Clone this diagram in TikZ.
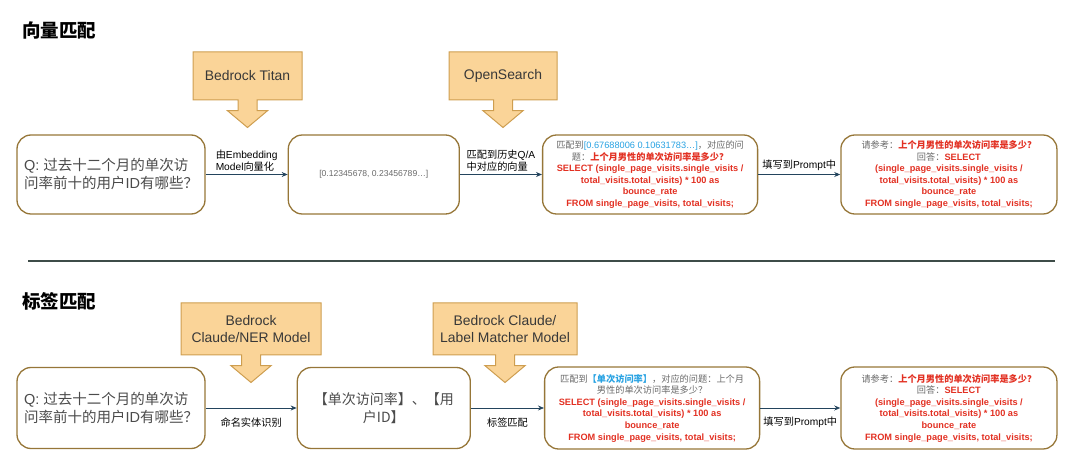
\documentclass[tikz,border=0pt]{standalone}
\usepackage{fontspec}
\setmainfont{Liberation Sans}
\newfontfamily\cjk{Noto Sans CJK SC}
\usepackage{xcolor}
\usepackage{tikz}
\usetikzlibrary{arrows.meta,positioning,shapes.arrows}

\definecolor{boxline}{RGB}{150,118,56}
\definecolor{calfill}{RGB}{250,212,152}
\definecolor{calline}{RGB}{206,158,80}
\definecolor{arrline}{RGB}{35,68,93}
\definecolor{sqlred}{RGB}{226,48,34}
\definecolor{qblue}{RGB}{40,162,226}
\definecolor{txtgray}{RGB}{105,105,105}
\definecolor{qgray}{RGB}{75,75,75}
\definecolor{rulegray}{RGB}{62,76,72}

\newcommand{\zh}[1]{{\cjk #1}}
\newcommand{\redb}[1]{\textcolor{sqlred}{\bfseries #1}}
\newcommand{\gry}[1]{\textcolor{txtgray}{\zh{#1}}}
\newcommand{\sqltail}{\redb{total\_visits.total\_visits) * 100 as}\\
  \redb{bounce\_rate}\\
  \redb{FROM single\_page\_visits, total\_visits;}}
\newcommand{\prompttext}{\gry{请参考：}\redb{\zh{上个月男性的单次访问率是多少？}}\\
  \gry{回答：}\redb{SELECT}\\
  \redb{(single\_page\_visits.single\_visits /}\\
  \sqltail}

\begin{document}
\begin{tikzpicture}[
  x=1pt, y=-1pt,
  box/.style={draw=boxline, line width=1.3pt, rounded corners=14pt, inner sep=3pt},
  qbox/.style={box, minimum width=188pt, minimum height=79pt, align=left, text=qgray, font=\fontsize{14.5pt}{18pt}\selectfont},
  vecbox/.style={box, minimum width=171pt, minimum height=79pt, align=center, text=txtgray, font=\fontsize{8.6pt}{11pt}\selectfont},
  entbox/.style={box, minimum width=173pt, minimum height=81pt, align=center, text=qgray, font=\fontsize{14pt}{18pt}\selectfont},
  matchbox/.style={box, minimum width=215pt, minimum height=79pt, align=center, font=\fontsize{9.2pt}{11.6pt}\selectfont},
  promptbox/.style={box, minimum width=216pt, minimum height=79pt, align=center, font=\fontsize{9.2pt}{11.6pt}\selectfont},
  callout/.style={arrow box, draw=calline, fill=calfill, line width=1pt, align=center, text=black!78,
    arrow box arrows={south:27pt from border}, arrow box shaft width=19pt,
    arrow box head extend=10.5pt, arrow box head indent=0pt, arrow box tip angle=100,
    font=\fontsize{13.9pt}{17pt}\selectfont},
  lbl/.style={align=left, inner sep=3pt, font=\fontsize{10.2pt}{12.2pt}\selectfont},
  ttl/.style={anchor=west, inner sep=0pt, font=\fontsize{18.5pt}{20pt}\selectfont\bfseries},
  arr/.style={-{Stealth[length=6pt,width=5pt]}, draw=arrline, line width=0.8pt},
  divider/.style={draw=rulegray, line width=1.2pt}
]
\useasboundingbox (0,0) rectangle (1080,470);

% vector matching
\node[ttl] (t1) at (22,30) {\zh{向量匹配}};
\node[qbox] (q1) at (111,174.5) {Q: \zh{过去十二个月的单次访}\\\zh{问率前十的用户}ID\zh{有哪些？}};
\node[vecbox, right=82pt of q1] (vec1) {[0.12345678, 0.23456789…]};
\node[matchbox, right=82pt of vec1] (match1) {\gry{匹配到}\textcolor{qblue}{[0.67688006 0.10631783…]}\gry{，对应的问}\\
  \gry{题：}\redb{\zh{上个月男性的单次访问率是多少？}}\\
  \redb{SELECT (single\_page\_visits.single\_visits /}\\
  \sqltail};
\node[promptbox, right=82pt of match1] (prompt1) {\prompttext};
\node[callout, minimum width=109pt, minimum height=48pt] (titan) at (247.5,76) {Bedrock Titan};
\node[callout, minimum width=108pt, minimum height=48pt] (osearch) at (503,76) {OpenSearch};
\draw[arr] (q1) -- node[lbl, above] (l1) {\zh{由}Embedding\\Model\zh{向量化}} (vec1);
\draw[arr] (vec1) -- node[lbl, above] (l2) {\zh{匹配到历史}Q/A\\\zh{中对应的向量}} (match1);
\draw[arr] (match1) -- node[lbl, above] (l3) {\zh{填写到}Prompt\zh{中}} (prompt1);

% divider
\coordinate (dl) at (28,261);
\coordinate (dr) at (1055,261);
\draw[divider] (dl) -- (dr);

% label matching
\node[ttl] (t2) at (22,301) {\zh{标签匹配}};
\node[qbox, minimum height=81pt] (q2) at (111,408) {Q: \zh{过去十二个月的单次访}\\\zh{问率前十的用户}ID\zh{有哪些？}};
\node[entbox, right=91pt of q2] (ent) {\zh{【单次访问率】、【用}\\\zh{户ID】}};
\node[matchbox, minimum height=82pt, right=73pt of ent] (match2) {\gry{匹配到}\textcolor{qblue}{\bfseries\zh{【单次访问率】}}\gry{，对应的问题：上个月}\\
  \gry{男性的单次访问率是多少？}\\
  \redb{SELECT (single\_page\_visits.single\_visits /}\\
  \sqltail};
\node[promptbox, minimum height=82pt, right=80pt of match2] (prompt2) {\prompttext};
\node[callout, minimum width=140pt, minimum height=52pt] (ner) at (251,329) {Bedrock\\Claude/NER Model};
\node[callout, minimum width=144pt, minimum height=52pt] (lmatch) at (505,329) {Bedrock Claude/\\Label Matcher Model};
\draw[arr] (q2) -- node[lbl, below, yshift=-6pt] (l4) {\zh{命名实体识别}} (ent);
\draw[arr] (ent) -- node[lbl, below, yshift=-6pt] (l5) {\zh{标签匹配}} (match2);
\draw[arr] (match2) -- node[lbl, below, yshift=-6pt] (l6) {\zh{填写到}Prompt\zh{中}} (prompt2);
\end{tikzpicture}
\end{document}
